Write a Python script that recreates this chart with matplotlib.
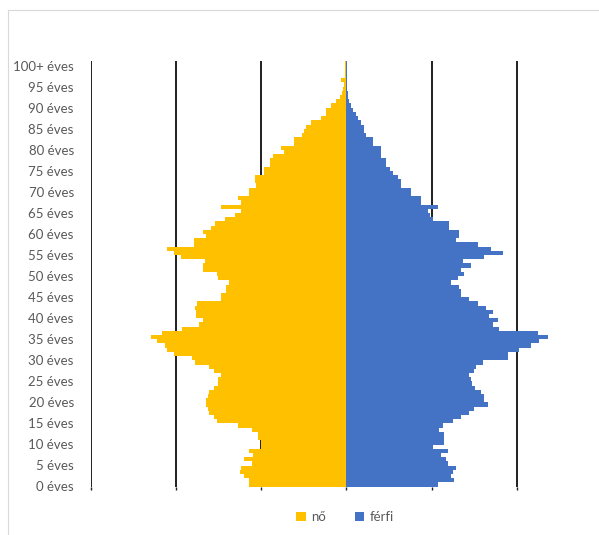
import numpy as np
import matplotlib.pyplot as plt
import matplotlib.transforms as mtransforms
from matplotlib.patches import Patch
from matplotlib.lines import Line2D

plt.rcParams['font.family'] = ['Lato', 'DejaVu Sans']

# ---------- data (ezer fő) ----------
ages = np.arange(0, 101)

no = [22.7, 22.7, 24.1, 25.0, 24.6, 22.2, 23.9, 21.8, 22.9, 19.9,
      20.1, 20.6, 20.6, 22.2, 25.3, 30.4, 31.1, 32.1, 32.5, 32.8,
      32.8, 32.5, 32.1, 31.1, 30.0, 30.0, 29.3, 31.1, 32.3, 35.6,
      36.3, 40.5, 42.1, 42.6, 44.5, 45.9, 43.3, 38.6, 34.6, 33.5,
      35.3, 35.3, 35.6, 35.1, 29.3, 29.3, 28.3, 28.3, 27.6, 30.0,
      30.4, 33.5, 33.5, 33.2, 38.8, 40.5, 42.1, 35.8, 35.8, 32.8,
      33.7, 31.8, 30.7, 28.5, 26.2, 24.6, 29.5, 24.6, 25.3, 22.7,
      22.7, 21.1, 21.5, 21.5, 19.4, 19.4, 18.0, 18.0, 17.1, 14.5,
      15.2, 12.2, 12.2, 10.3, 9.8, 9.4, 8.2, 5.9, 4.7, 4.7,
      3.5, 2.3, 1.4, 0.9, 0.7, 0.5, 1.2, 0.2, 0.2, 0.2,
      0.2]

ferfi = [21.5, 25.3, 24.6, 25.0, 25.7, 23.9, 23.4, 22.2, 23.9, 20.4,
         22.9, 22.9, 22.9, 21.8, 22.7, 25.0, 26.9, 28.8, 30.0, 33.2,
         32.3, 32.3, 31.6, 30.2, 29.5, 29.3, 28.8, 30.0, 30.4, 32.1,
         37.9, 37.9, 40.5, 43.3, 45.2, 47.3, 44.9, 35.8, 34.4, 35.6,
         33.5, 34.4, 32.8, 30.9, 28.8, 26.9, 26.9, 26.4, 24.6, 26.2,
         27.6, 26.9, 29.3, 27.4, 32.3, 36.7, 33.9, 30.9, 25.7, 26.4,
         26.4, 24.1, 24.1, 20.4, 19.7, 19.2, 21.5, 17.6, 17.6, 15.2,
         15.2, 12.9, 12.9, 12.2, 11.0, 10.3, 9.4, 9.4, 8.2, 8.2,
         8.2, 6.3, 6.3, 4.7, 4.2, 4.2, 3.5, 2.8, 2.3, 1.6,
         1.2, 0.7, 0.5, 0.5, 0.2, 0.2, 0.2, 0.2, 0.1, 0.1,
         0.1]

tick_ages = [0, 5, 10, 15, 20, 25, 30, 35, 40, 45, 50,
             55, 60, 65, 70, 75, 80, 85, 90, 95, 100]
tick_labels = ['0 éves', '5 éves', '10 éves', '15 éves', '20 éves',
               '25 éves', '30 éves', '35 éves', '40 éves', '45 éves',
               '50 éves', '55 éves', '60 éves', '65 éves', '70 éves',
               '75 éves', '80 éves', '85 éves', '90 éves', '95 éves',
               '100+ éves']
grid_x = [-60, -40, -20, 0, 20, 40, 60]

col_no = '#FFC000'
col_ferfi = '#4472C4'
txt = '#595959'

# ---------- figure ----------
W, H = 599, 535
fig = plt.figure(figsize=(W / 100, H / 100), dpi=100)
ax = fig.add_axes([90.5 / W, 1 - 486.6 / H, 511.5 / W, (486.6 - 61.4) / H])

ax.barh(ages, -np.array(no), height=1.0, color=col_no, linewidth=0, zorder=2)
ax.barh(ages, ferfi, height=1.0, color=col_ferfi, linewidth=0, zorder=2)

ax.set_xlim(-60, 60)
ax.set_ylim(-0.5, 100.5)
ax.set_xticks(grid_x)
ax.xaxis.grid(True, color='#1f1f1f', linewidth=1.4)
ax.set_axisbelow(True)
ax.tick_params(axis='x', labelbottom=False, length=2.5, width=1.0,
               color='#1f1f1f', direction='out')
ax.set_yticks(tick_ages)
ax.set_yticklabels(tick_labels, color=txt, fontsize=9.5)
ax.tick_params(axis='y', length=0, pad=12)
# labels sit a couple of pixels below the bar centres in the original
shift = mtransforms.ScaledTranslation(0, -2 / 100, fig.dpi_scale_trans)
for lab in ax.get_yticklabels():
    lab.set_transform(lab.get_transform() + shift)
for s in ax.spines.values():
    s.set_visible(False)

# chart area border (left and top edges visible)
fig.add_artist(Line2D([8 / W, 8 / W], [0, 1 - 10 / H], transform=fig.transFigure,
                      color='#d9d9d9', linewidth=0.8))
fig.add_artist(Line2D([8 / W, 1], [1 - 10 / H, 1 - 10 / H], transform=fig.transFigure,
                      color='#d9d9d9', linewidth=0.8))

handles = [Patch(facecolor=col_no, label='nő'),
           Patch(facecolor=col_ferfi, label='férfi')]
fig.legend(handles=handles, loc='center', bbox_to_anchor=(345 / W, 1 - 517 / H),
           ncol=2, frameon=False, fontsize=9.5, labelcolor=txt,
           handlelength=0.7, handleheight=0.7, handletextpad=0.4,
           columnspacing=2.2)

fig.savefig('out.png', dpi=100)
